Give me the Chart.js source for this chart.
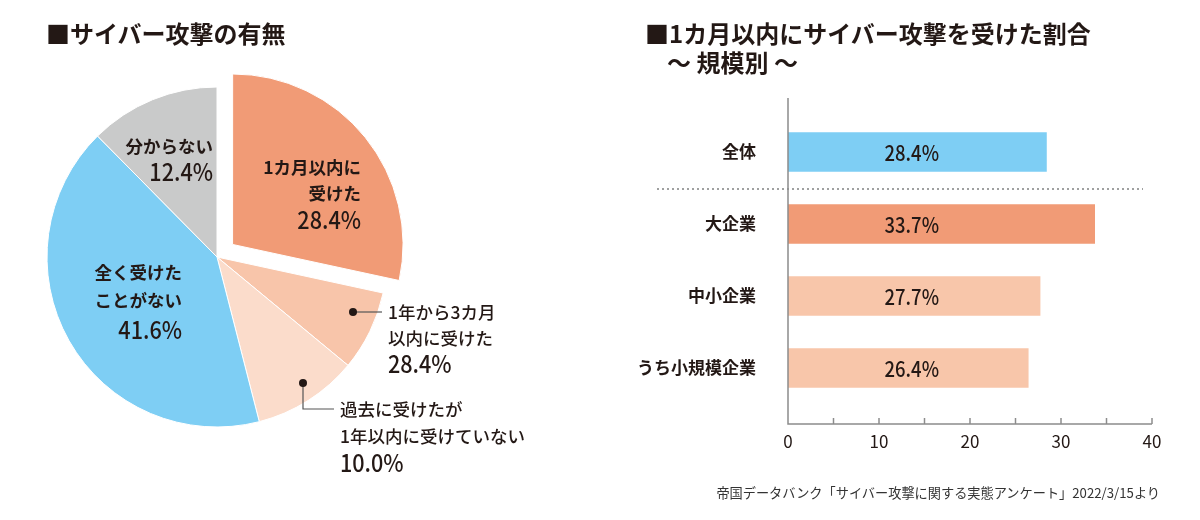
<!DOCTYPE html>
<html lang="ja">
<head>
<meta charset="utf-8">
<script src="https://cdn.jsdelivr.net/npm/chart.js@4.4.0/dist/chart.umd.min.js"></script>
<style>
  body { margin: 0; width: 1200px; height: 520px; background: #fff; position: relative; overflow: hidden;
         font-family: "Noto Sans CJK JP", sans-serif; color: #231815; }
  .title { position: absolute; font-weight: 700; font-size: 24px; line-height: 30px; white-space: nowrap; z-index: 2; }
  #pieBox { position: absolute; left: 0; top: 0; width: 600px; height: 520px; }
  #barBox { position: absolute; left: 600px; top: 0; width: 600px; height: 520px; }
  .source { position: absolute; right: 40px; top: 484px; font-size: 13.2px; line-height: 18px; color: #333; white-space: nowrap; }
</style>
</head>
<body>
<div class="title" style="left:46px; top:18px;">■サイバー攻撃の有無</div>
<div class="title" style="left:645px; top:18px;">■1カ月以内にサイバー攻撃を受けた割合</div>
<div class="title" style="left:667px; top:47px;">〜 規模別 〜</div>
<div id="pieBox"><canvas id="pie" width="600" height="520"></canvas></div>
<div id="barBox"><canvas id="bar" width="600" height="520"></canvas></div>
<div class="source">帝国データバンク「サイバー攻撃に関する実態アンケート」2022/3/15より</div>

<script>
// --- data ---
const pieLabels = ['1カ月以内に受けた', '1年から3カ月以内に受けた', '過去に受けたが1年以内に受けていない', '全く受けたことがない', '分からない']
const pieValues = [28.4, 7.6, 10.0, 41.6, 12.4]
// percentages as printed on the chart
const pieValueText = ['28.4%', '28.4%', '10.0%', '41.6%', '12.4%']
const pieLabelLines = [
  ['1カ月以内に', '受けた'],
  ['1年から3カ月', '以内に受けた'],
  ['過去に受けたが', '1年以内に受けていない'],
  ['全く受けた', 'ことがない'],
  ['分からない']
]

const barCategories = ['全体', '大企業', '中小企業', 'うち小規模企業']
const barValues = [28.4, 33.7, 27.7, 26.4]
const xTickValues = [0, 10, 20, 30, 40]

// --- styles ---
const ink = '#231815'
const jpFont = "'Noto Sans CJK JP'"
const pieColors = ['#F19B76', '#F8C5AA', '#FBDCCB', '#7ECEF4', '#C9CACA']
const pieOffsets = [80, 0, 0, 0, 0]
const barColors = ['#7ECEF4', '#F19B76', '#F8C6AA', '#F8C6AA']

// numbers in the original are set in a condensed face
function drawNumber(ctx, text, x, y, size, squeeze) {
  ctx.save()
  ctx.font = `500 ${size}px ${jpFont}`
  ctx.translate(x, y)
  ctx.scale(squeeze, 1)
  ctx.fillText(text, 0, 0)
  ctx.restore()
}

// label placement relative to pie centre
const pieLabelLayout = [
  { align: 'right', dx: 144, dy: [-90, -64, -37], weight: 700 },
  { align: 'left', dx: 171, dy: [55, 81, 107], weight: 500, dot: [136, 55], path: [[165, 55]] },
  { align: 'left', dx: 123, dy: [152, 179, 206], weight: 500, dot: [86, 126], path: [[86, 152], [117, 152]] },
  { align: 'right', dx: -35, dy: [15, 43, 73], weight: 700 },
  { align: 'right', dx: -4, dy: [-111, -85], weight: 700 }
]

const pieLabelPlugin = {
  id: 'pieLabels',
  afterDatasetsDraw(chart) {
    const ctx = chart.ctx
    const arc = chart.getDatasetMeta(0).data[0]
    const cx = arc.x, cy = arc.y
    ctx.save()
    ctx.fillStyle = ink
    ctx.textBaseline = 'middle'
    pieLabelLayout.forEach((l, i) => {
      if (l.dot) {
        ctx.strokeStyle = '#555'
        ctx.lineWidth = 1.2
        ctx.beginPath()
        ctx.moveTo(cx + l.dot[0], cy + l.dot[1])
        l.path.forEach(p => ctx.lineTo(cx + p[0], cy + p[1]))
        ctx.stroke()
        ctx.beginPath()
        ctx.arc(cx + l.dot[0], cy + l.dot[1], 4, 0, Math.PI * 2)
        ctx.fill()
      }
      ctx.textAlign = l.align
      const lines = pieLabelLines[i]
      lines.forEach((t, k) => {
        ctx.font = `${l.weight} 17.5px ${jpFont}`
        ctx.fillText(t, cx + l.dx, cy + l.dy[k])
      })
      drawNumber(ctx, pieValueText[i], cx + l.dx, cy + l.dy[lines.length], 24, 0.9)
    })
    ctx.restore()
  }
}

new Chart(document.getElementById('pie'), {
  type: 'pie',
  data: {
    labels: pieLabels,
    datasets: [{
      data: pieValues,
      backgroundColor: pieColors,
      borderColor: '#fff',
      borderWidth: 1,
      offset: pieOffsets
    }]
  },
  options: {
    responsive: false,
    animation: false,
    events: [],
    radius: 170,
    layout: { padding: { left: 0, right: 166, top: 40, bottom: 46 } },
    plugins: { legend: { display: false }, tooltip: { enabled: false } }
  },
  plugins: [pieLabelPlugin]
})

const axisColor = '#8c8c8c'
const valueLabelAt = 13.6

const barDecorPlugin = {
  id: 'barDecor',
  afterDatasetsDraw(chart) {
    const { ctx, chartArea } = chart
    const x = chart.scales.x, y = chart.scales.y
    const x0 = x.getPixelForValue(0)
    const axisY = chartArea.bottom + 20
    ctx.save()
    // separator between 全体 and the size groups
    ctx.strokeStyle = '#9fa0a0'
    ctx.lineWidth = 2
    ctx.setLineDash([2, 3])
    const sepY = Math.round(y.getPixelForValue(0.5)) + 1
    ctx.beginPath()
    ctx.moveTo(chartArea.left - 131, sepY)
    ctx.lineTo(chartArea.right - 9, sepY)
    ctx.stroke()
    ctx.setLineDash([])
    // axes
    ctx.strokeStyle = axisColor
    ctx.lineWidth = 1.5
    ctx.beginPath()
    ctx.moveTo(x0, chartArea.top - 18)
    ctx.lineTo(x0, axisY)
    ctx.lineTo(x.getPixelForValue(40), axisY)
    ctx.stroke()
    for (let v = 5; v <= 40; v += 5) {
      const px = x.getPixelForValue(v)
      ctx.beginPath()
      ctx.moveTo(px, axisY)
      ctx.lineTo(px, axisY - 6)
      ctx.stroke()
    }
    // value labels
    ctx.fillStyle = ink
    ctx.textAlign = 'center'
    ctx.textBaseline = 'middle'
    barValues.forEach((v, i) => {
      drawNumber(ctx, v.toFixed(1) + '%', x.getPixelForValue(valueLabelAt), y.getPixelForValue(i) + 1, 21.5, 0.86)
    })
    ctx.restore()
  }
}

new Chart(document.getElementById('bar'), {
  type: 'bar',
  data: {
    labels: barCategories,
    datasets: [{
      data: barValues,
      backgroundColor: barColors,
      borderWidth: 0,
      barThickness: 39
    }]
  },
  options: {
    indexAxis: 'y',
    responsive: false,
    animation: false,
    events: [],
    layout: { padding: { top: 116, right: 48, left: 0, bottom: 0 } },
    plugins: { legend: { display: false }, tooltip: { enabled: false } },
    scales: {
      x: {
        min: 0,
        max: 40,
        afterBuildTicks: s => { s.ticks = xTickValues.map(v => ({ value: v })) },
        ticks: { padding: 27, color: ink, font: { family: jpFont, size: 17 } },
        grid: { display: false, drawTicks: false },
        border: { display: false },
        afterFit: s => { s.height = 116 }
      },
      y: {
        ticks: { padding: 32, color: ink, font: { family: jpFont, size: 17, weight: 'bold' } },
        grid: { display: false, drawTicks: false },
        border: { display: false },
        afterFit: s => { s.width = 188 }
      }
    }
  },
  plugins: [barDecorPlugin]
})
</script>
</body>
</html>
